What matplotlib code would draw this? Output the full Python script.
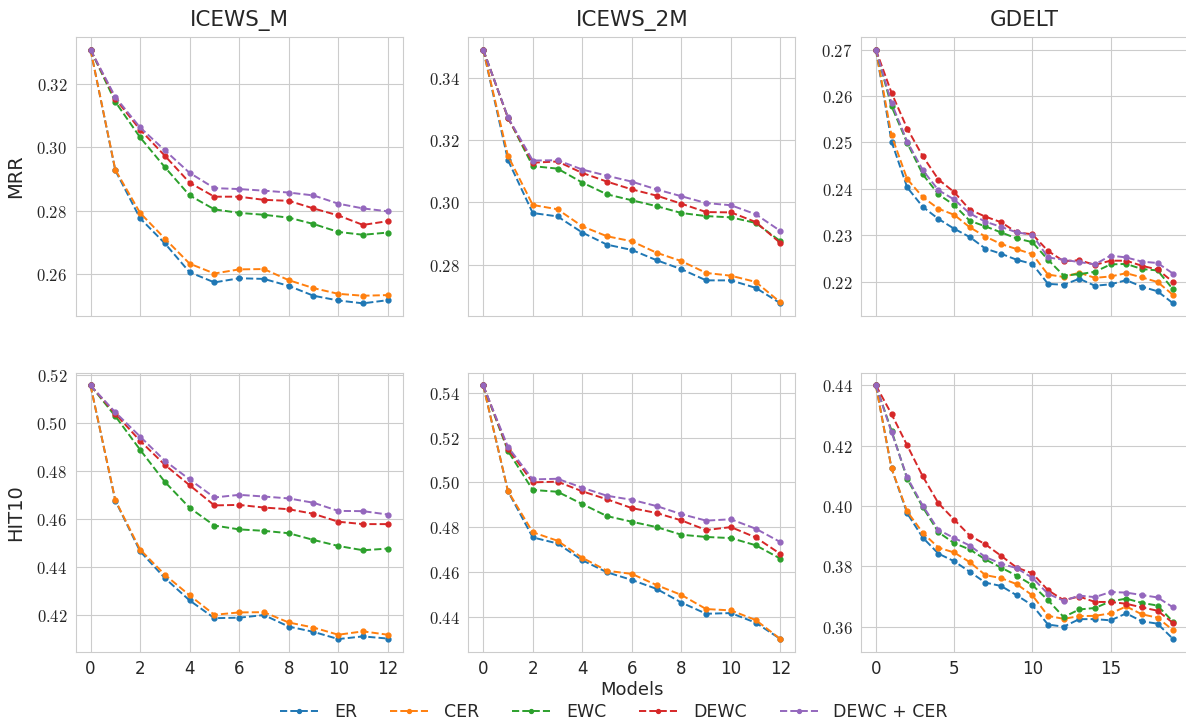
import matplotlib
matplotlib.use("Agg")
import matplotlib.pyplot as plt
import seaborn as sns
from matplotlib.ticker import FuncFormatter, MultipleLocator

sns.set_style("whitegrid")
plt.rcParams["font.family"] = ["DejaVu Sans"]
plt.rcParams["mathtext.fontset"] = "cm"

methods = ["ER", "CER", "EWC", "DEWC", "DEWC + CER"]
colors = ["tab:blue", "tab:orange", "tab:green", "tab:red", "tab:purple"]
datasets = ["ICEWS_M", "ICEWS_2M", "GDELT"]
metrics = ["MRR", "HIT10"]

# ICEWS_M, MRR
icews_m_mrr = {
    "ER": [0.3307, 0.2927, 0.2776, 0.2697, 0.2606, 0.2574, 0.2587, 0.2585, 0.2563, 0.2532, 0.2517, 0.2508, 0.2518],
    "CER": [0.3307, 0.2929, 0.2793, 0.2712, 0.2633, 0.2602, 0.2615, 0.2616, 0.2581, 0.2556, 0.2538, 0.2532, 0.2534],
    "EWC": [0.3307, 0.3143, 0.3031, 0.2937, 0.2848, 0.2804, 0.2793, 0.2787, 0.2778, 0.2758, 0.2733, 0.2724, 0.2731],
    "DEWC": [0.3307, 0.3153, 0.3055, 0.2973, 0.2888, 0.2844, 0.2844, 0.2834, 0.2831, 0.2807, 0.2785, 0.2755, 0.2767],
    "DEWC + CER": [0.3307, 0.3158, 0.3062, 0.2990, 0.2919, 0.2871, 0.2868, 0.2863, 0.2857, 0.2848, 0.2822, 0.2807, 0.2798],
}

# ICEWS_2M, MRR
icews_2m_mrr = {
    "ER": [0.3492, 0.3136, 0.2966, 0.2955, 0.2903, 0.2864, 0.2847, 0.2814, 0.2785, 0.2749, 0.2749, 0.2725, 0.2675],
    "CER": [0.3492, 0.3150, 0.2992, 0.2978, 0.2923, 0.2891, 0.2875, 0.2838, 0.2811, 0.2773, 0.2764, 0.2744, 0.2678],
    "EWC": [0.3492, 0.3273, 0.3117, 0.3109, 0.3064, 0.3026, 0.3007, 0.2988, 0.2966, 0.2956, 0.2952, 0.2934, 0.2875],
    "DEWC": [0.3492, 0.3272, 0.3128, 0.3132, 0.3095, 0.3067, 0.3042, 0.3022, 0.2996, 0.2969, 0.2968, 0.2937, 0.2869],
    "DEWC + CER": [0.3492, 0.3274, 0.3135, 0.3136, 0.3106, 0.3086, 0.3067, 0.3042, 0.3020, 0.2998, 0.2991, 0.2962, 0.2908],
}

# GDELT, MRR
gdelt_mrr = {
    "ER": [0.2700, 0.2502, 0.2403, 0.2361, 0.2335, 0.2314, 0.2296, 0.2271, 0.2260, 0.2247,
           0.2238, 0.2195, 0.2193, 0.2206, 0.2191, 0.2194, 0.2203, 0.2189, 0.2179, 0.2153],
    "CER": [0.2700, 0.2515, 0.2421, 0.2382, 0.2357, 0.2344, 0.2317, 0.2297, 0.2281, 0.2270,
            0.2259, 0.2215, 0.2210, 0.2219, 0.2208, 0.2211, 0.2218, 0.2209, 0.2199, 0.2171],
    "EWC": [0.2700, 0.2578, 0.2499, 0.2431, 0.2388, 0.2365, 0.2331, 0.2319, 0.2306, 0.2293,
            0.2285, 0.2247, 0.2213, 0.2216, 0.2221, 0.2237, 0.2238, 0.2227, 0.2224, 0.2183],
    "DEWC": [0.2700, 0.2607, 0.2530, 0.2470, 0.2420, 0.2393, 0.2355, 0.2340, 0.2328, 0.2306,
             0.2302, 0.2266, 0.2244, 0.2246, 0.2236, 0.2245, 0.2245, 0.2234, 0.2226, 0.2199],
    "DEWC + CER": [0.2700, 0.2585, 0.2502, 0.2440, 0.2397, 0.2377, 0.2347, 0.2329, 0.2318, 0.2306,
                   0.2301, 0.2252, 0.2247, 0.2242, 0.2237, 0.2256, 0.2252, 0.2243, 0.2240, 0.2217],
}

# ICEWS_M, HIT10
icews_m_hit10 = {
    "ER": [0.5156, 0.4676, 0.4465, 0.4353, 0.4260, 0.4186, 0.4188, 0.4199, 0.4151, 0.4129, 0.4099, 0.4110, 0.4101],
    "CER": [0.5156, 0.4678, 0.4472, 0.4367, 0.4281, 0.4200, 0.4210, 0.4211, 0.4168, 0.4147, 0.4117, 0.4131, 0.4117],
    "EWC": [0.5156, 0.5028, 0.4888, 0.4754, 0.4646, 0.4572, 0.4556, 0.4550, 0.4540, 0.4512, 0.4487, 0.4469, 0.4476],
    "DEWC": [0.5156, 0.5038, 0.4925, 0.4825, 0.4740, 0.4656, 0.4658, 0.4647, 0.4640, 0.4621, 0.4588, 0.4578, 0.4578],
    "DEWC + CER": [0.5156, 0.5044, 0.4943, 0.4842, 0.4764, 0.4689, 0.4700, 0.4693, 0.4685, 0.4667, 0.4633, 0.4632, 0.4618],
}

# ICEWS_2M, HIT10
icews_2m_hit10 = {
    "ER": [0.5433, 0.4960, 0.4754, 0.4727, 0.4652, 0.4598, 0.4564, 0.4524, 0.4463, 0.4413, 0.4416, 0.4373, 0.4300],
    "CER": [0.5433, 0.4961, 0.4777, 0.4739, 0.4663, 0.4605, 0.4591, 0.4541, 0.4497, 0.4434, 0.4428, 0.4385, 0.4300],
    "EWC": [0.5433, 0.5140, 0.4966, 0.4958, 0.4903, 0.4849, 0.4824, 0.4800, 0.4766, 0.4756, 0.4751, 0.4719, 0.4659],
    "DEWC": [0.5433, 0.5149, 0.5000, 0.5003, 0.4960, 0.4924, 0.4885, 0.4863, 0.4830, 0.4787, 0.4800, 0.4754, 0.4680],
    "DEWC + CER": [0.5433, 0.5158, 0.5013, 0.5016, 0.4976, 0.4940, 0.4922, 0.4894, 0.4858, 0.4829, 0.4835, 0.4793, 0.4733],
}

# GDELT, HIT10
gdelt_hit10 = {
    "ER": [0.4400, 0.4125, 0.3976, 0.3895, 0.3842, 0.3817, 0.3782, 0.3746, 0.3735, 0.3704,
           0.3671, 0.3607, 0.3600, 0.3625, 0.3625, 0.3621, 0.3644, 0.3618, 0.3610, 0.3559],
    "CER": [0.4400, 0.4125, 0.3982, 0.3911, 0.3862, 0.3846, 0.3814, 0.3771, 0.3761, 0.3741,
            0.3704, 0.3636, 0.3626, 0.3635, 0.3636, 0.3644, 0.3667, 0.3641, 0.3630, 0.3588],
    "EWC": [0.4400, 0.4250, 0.4090, 0.3996, 0.3913, 0.3877, 0.3856, 0.3823, 0.3796, 0.3769,
            0.3738, 0.3688, 0.3632, 0.3657, 0.3662, 0.3684, 0.3693, 0.3679, 0.3670, 0.3616],
    "DEWC": [0.4400, 0.4305, 0.4201, 0.4098, 0.4009, 0.3955, 0.3902, 0.3873, 0.3835, 0.3796,
             0.3777, 0.3721, 0.3688, 0.3700, 0.3682, 0.3682, 0.3676, 0.3664, 0.3653, 0.3612],
    "DEWC + CER": [0.4400, 0.4245, 0.4095, 0.4001, 0.3921, 0.3894, 0.3869, 0.3831, 0.3809, 0.3794,
                   0.3762, 0.3709, 0.3686, 0.3703, 0.3698, 0.3715, 0.3713, 0.3705, 0.3697, 0.3664],
}

grid_data = [[icews_m_mrr, icews_2m_mrr, gdelt_mrr],
             [icews_m_hit10, icews_2m_hit10, gdelt_hit10]]
y_steps = [[0.02, 0.02, 0.01], [0.02, 0.02, 0.02]]

fig = plt.figure(figsize=(11.86, 7.26), dpi=100)

lefts = [0.0638, 0.3949, 0.7260]
bottoms = [0.5647, 0.1023]
w, h = 0.2757, 0.3843

for r in range(2):
    for c in range(3):
        ax = fig.add_axes([lefts[c], bottoms[r], w, h])
        series = grid_data[r][c]
        for m, col in zip(methods, colors):
            vals = series[m]
            ax.plot(range(len(vals)), vals, linestyle="--", marker="o", markersize=3.5,
                    linewidth=1.4, color=col, label=m)
        ax.yaxis.set_major_locator(MultipleLocator(y_steps[r][c]))
        ax.yaxis.set_major_formatter(FuncFormatter(lambda v, p: "$%.2f$" % v))
        if c == 2:
            ax.xaxis.set_major_locator(MultipleLocator(5))
        else:
            ax.xaxis.set_major_locator(MultipleLocator(2))
        ax.tick_params(axis="both", labelsize=12, pad=6, length=0)
        for sp in ax.spines.values():
            sp.set_color("0.8")
        if r == 0:
            ax.set_title(datasets[c], fontsize=15.5, pad=8)
            ax.set_xticklabels([])
        if c == 0:
            ax.set_ylabel(metrics[r], fontsize=14, labelpad=8)
        if r == 1 and c == 1:
            ax.set_xlabel("Models", fontsize=13, labelpad=2)
        if r == 1 and c == 0:
            handles, labels = ax.get_legend_handles_labels()

fig.legend(handles, labels, loc="center", bbox_to_anchor=(614 / 1186, 0.019), ncol=5,
           frameon=False, fontsize=12.5, columnspacing=1.9, handlelength=2.2,
           handletextpad=0.9, markerscale=0.8)

fig.savefig("out.png", dpi=100)
